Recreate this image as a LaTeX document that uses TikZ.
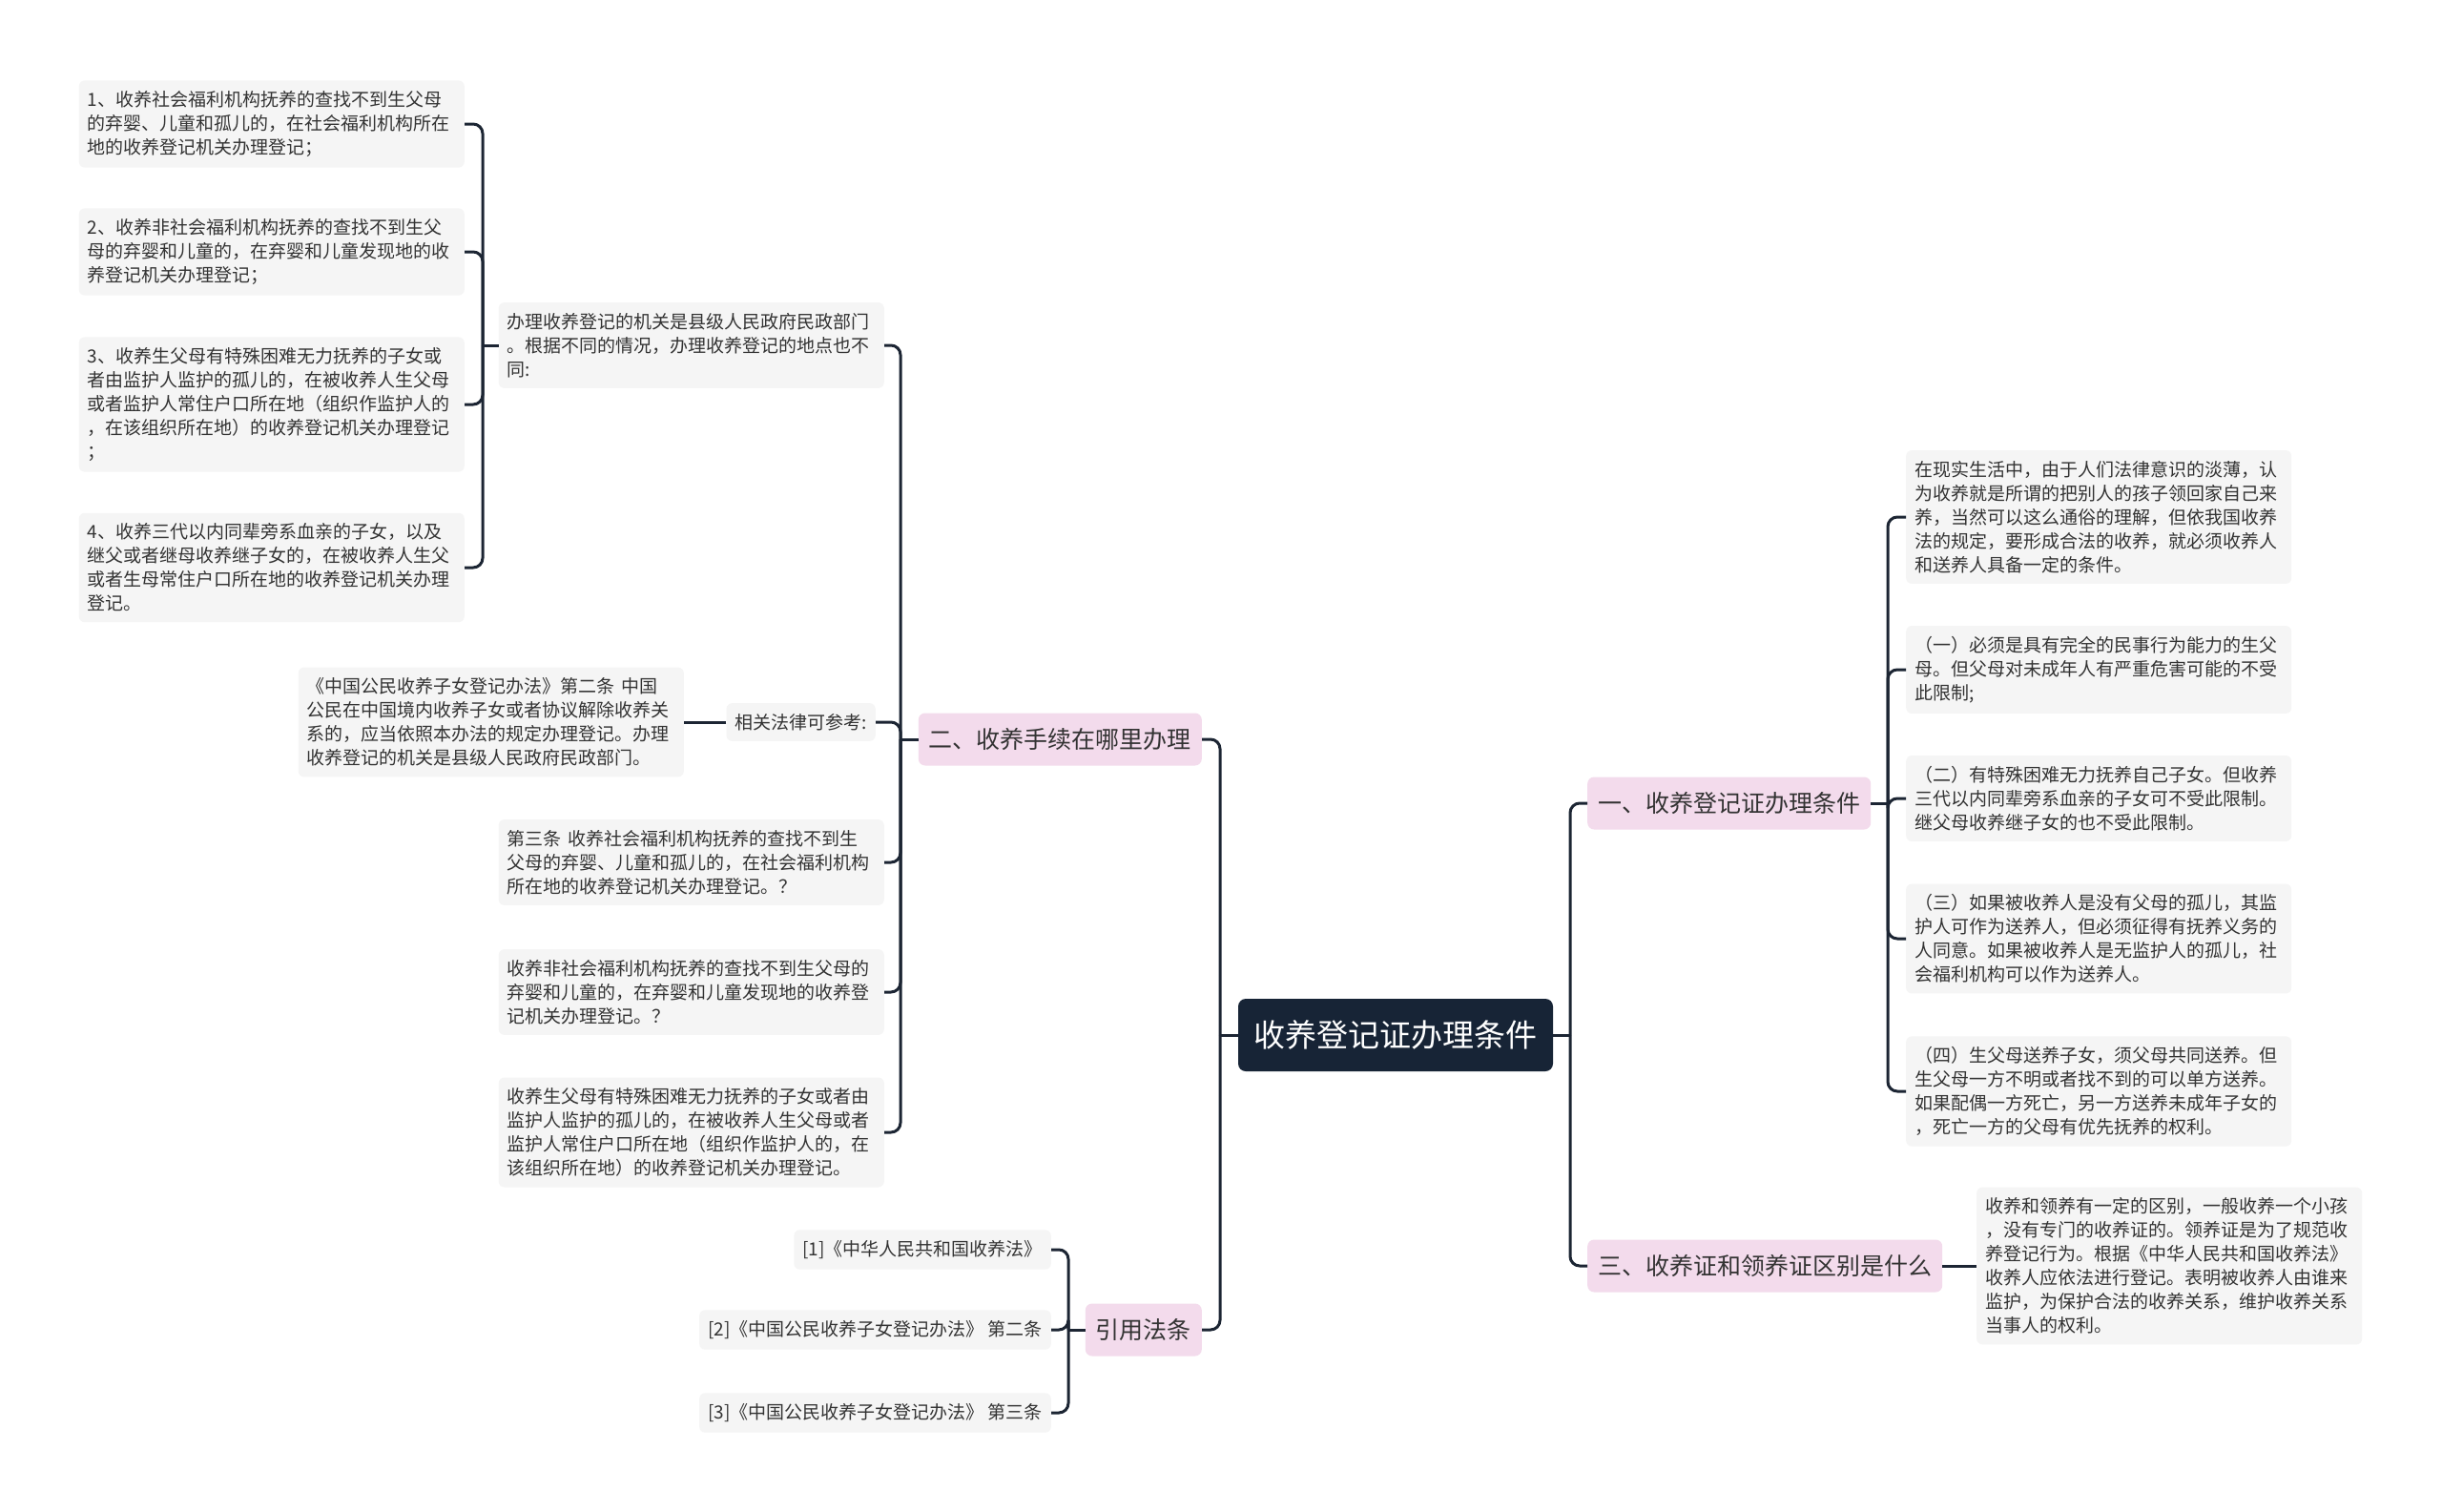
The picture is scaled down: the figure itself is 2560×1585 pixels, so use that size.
\documentclass[tikz,border=0pt]{standalone}
\usepackage{fontspec}
\setmainfont{Noto Sans CJK SC}
\XeTeXlinebreaklocale "zh"
\usepackage{tikz}
\definecolor{rootbg}{HTML}{172436}
\definecolor{topicbg}{HTML}{F3DBEC}
\definecolor{leafbg}{HTML}{F5F5F5}
\definecolor{wire}{HTML}{1C2533}
\definecolor{ink}{HTML}{333333}

\begin{document}
\begin{tikzpicture}[x=1pt, y=-1pt,
      leaf/.style={fill=leafbg, rounded corners=6pt, text=ink, align=left,
        inner xsep=9pt, inner ysep=11pt, font=\fontsize{19}{25}\selectfont},
      wide/.style={leaf, text width=386pt},
      topic/.style={fill=topicbg, rounded corners=7pt, text=ink,
        inner xsep=11pt, minimum height=55pt, font=\fontsize{25}{30}\selectfont},
      rootbox/.style={fill=rootbg, rounded corners=8pt, text=white,
        minimum width=330pt, minimum height=76pt, font=\fontsize{33}{40}\selectfont},
      link/.style={draw=wire, line width=3pt, rounded corners=10pt}]

    \useasboundingbox (0,0) rectangle (2560,1585);
    \fill[white] (0,0) rectangle (2560,1585);

    % centre and first level
    \node[rootbox] (root) at (1463,1085) {收养登记证办理条件};
    \node[topic, anchor=east] (two) at (1260,775) {二、收养手续在哪里办理};
    \node[topic, anchor=east] (cite) at (1260,1394) {引用法条};
    \node[topic, anchor=west] (one) at (1664,842) {一、收养登记证办理条件};
    \node[topic, anchor=west] (three) at (1664,1327) {三、收养证和领养证区别是什么};

    \coordinate (lbus) at (1279,1085);
    \coordinate (rbus) at (1646,1085);
    \draw[link] (root.west) -- (lbus);
    \draw[link] (lbus) |- (two.east);
    \draw[link] (lbus) |- (cite.east);
    \draw[link] (root.east) -- (rbus);
    \draw[link] (rbus) |- (one.west);
    \draw[link] (rbus) |- (three.west);

    % 二、收养手续在哪里办理
    \node[wide, anchor=east] (p1) at (927,362)
      {办理收养登记的机关是县级人民政府民政部门\\。根据不同的情况，办理收养登记的地点也不\\同:};
    \node[leaf, anchor=east] (p2) at (918,757) {相关法律可参考:};
    \node[wide, anchor=east] (p3) at (927,904)
      {第三条 收养社会福利机构抚养的查找不到生\\父母的弃婴、儿童和孤儿的，在社会福利机构\\所在地的收养登记机关办理登记。？};
    \node[wide, anchor=east] (p4) at (927,1040)
      {收养非社会福利机构抚养的查找不到生父母的\\弃婴和儿童的，在弃婴和儿童发现地的收养登\\记机关办理登记。？};
    \node[wide, anchor=east] (p5) at (927,1187)
      {收养生父母有特殊困难无力抚养的子女或者由\\监护人监护的孤儿的，在被收养人生父母或者\\监护人常住户口所在地（组织作监护人的，在\\该组织所在地）的收养登记机关办理登记。};

    \coordinate (b2) at (944,775);
    \draw[link] (two.west) -- (b2);
    \draw[link] (b2) |- (p1.east);
    \draw[link] (b2) |- (p2.east);
    \draw[link] (b2) |- (p3.east);
    \draw[link] (b2) |- (p4.east);
    \draw[link] (b2) |- (p5.east);

    \node[wide, anchor=east] (l1) at (487,130)
      {1、收养社会福利机构抚养的查找不到生父母\\的弃婴、儿童和孤儿的，在社会福利机构所在\\地的收养登记机关办理登记；};
    \node[wide, anchor=east] (l2) at (487,264)
      {2、收养非社会福利机构抚养的查找不到生父\\母的弃婴和儿童的，在弃婴和儿童发现地的收\\养登记机关办理登记；};
    \node[wide, anchor=east] (l3) at (487,424)
      {3、收养生父母有特殊困难无力抚养的子女或\\者由监护人监护的孤儿的，在被收养人生父母\\或者监护人常住户口所在地（组织作监护人的\\，在该组织所在地）的收养登记机关办理登记\\；};
    \node[wide, anchor=east] (l4) at (487,595)
      {4、收养三代以内同辈旁系血亲的子女，以及\\继父或者继母收养继子女的，在被收养人生父\\或者生母常住户口所在地的收养登记机关办理\\登记。};

    \coordinate (b1) at (506,362);
    \draw[link] (p1.west) -- (b1);
    \draw[link] (b1) |- (l1.east);
    \draw[link] (b1) |- (l2.east);
    \draw[link] (b1) |- (l3.east);
    \draw[link] (b1) |- (l4.east);

    \node[wide, anchor=east] (law) at (717,757)
      {《中国公民收养子女登记办法》第二条 中国\\公民在中国境内收养子女或者协议解除收养关\\系的，应当依照本办法的规定办理登记。办理\\收养登记的机关是县级人民政府民政部门。};
    \draw[link] (p2.west) -- (law.east);

    % 引用法条
    \node[leaf, anchor=east] (c1) at (1102,1310) {[1]《中华人民共和国收养法》};
    \node[leaf, anchor=east] (c2) at (1102,1394) {[2]《中国公民收养子女登记办法》 第二条};
    \node[leaf, anchor=east] (c3) at (1102,1481) {[3]《中国公民收养子女登记办法》 第三条};

    \coordinate (b3) at (1120,1394);
    \draw[link] (cite.west) -- (b3);
    \draw[link] (b3) |- (c1.east);
    \draw[link] (b3) |- (c2.east);
    \draw[link] (b3) |- (c3.east);

    % 一、收养登记证办理条件
    \node[wide, anchor=west] (r1) at (1998,542)
      {在现实生活中，由于人们法律意识的淡薄，认\\为收养就是所谓的把别人的孩子领回家自己来\\养，当然可以这么通俗的理解，但依我国收养\\法的规定，要形成合法的收养，就必须收养人\\和送养人具备一定的条件。};
    \node[wide, anchor=west] (r2) at (1998,702)
      {（一）必须是具有完全的民事行为能力的生父\\母。但父母对未成年人有严重危害可能的不受\\此限制;};
    \node[wide, anchor=west] (r3) at (1998,837)
      {（二）有特殊困难无力抚养自己子女。但收养\\三代以内同辈旁系血亲的子女可不受此限制。\\继父母收养继子女的也不受此限制。};
    \node[wide, anchor=west] (r4) at (1998,984)
      {（三）如果被收养人是没有父母的孤儿，其监\\护人可作为送养人，但必须征得有抚养义务的\\人同意。如果被收养人是无监护人的孤儿，社\\会福利机构可以作为送养人。};
    \node[wide, anchor=west] (r5) at (1998,1144)
      {（四）生父母送养子女，须父母共同送养。但\\生父母一方不明或者找不到的可以单方送养。\\如果配偶一方死亡，另一方送养未成年子女的\\，死亡一方的父母有优先抚养的权利。};

    \coordinate (b4) at (1979,842);
    \draw[link] (one.east) -- (b4);
    \draw[link] (b4) |- (r1.west);
    \draw[link] (b4) |- (r2.west);
    \draw[link] (b4) |- (r3.west);
    \draw[link] (b4) |- (r4.west);
    \draw[link] (b4) |- (r5.west);

    % 三、收养证和领养证区别是什么
    \node[wide, anchor=west] (r6) at (2072,1327)
      {收养和领养有一定的区别，一般收养一个小孩\\，没有专门的收养证的。领养证是为了规范收\\养登记行为。根据《中华人民共和国收养法》\\收养人应依法进行登记。表明被收养人由谁来\\监护，为保护合法的收养关系，维护收养关系\\当事人的权利。};
    \draw[link] (three.east) -- (r6.west);
  \end{tikzpicture}
\end{document}
